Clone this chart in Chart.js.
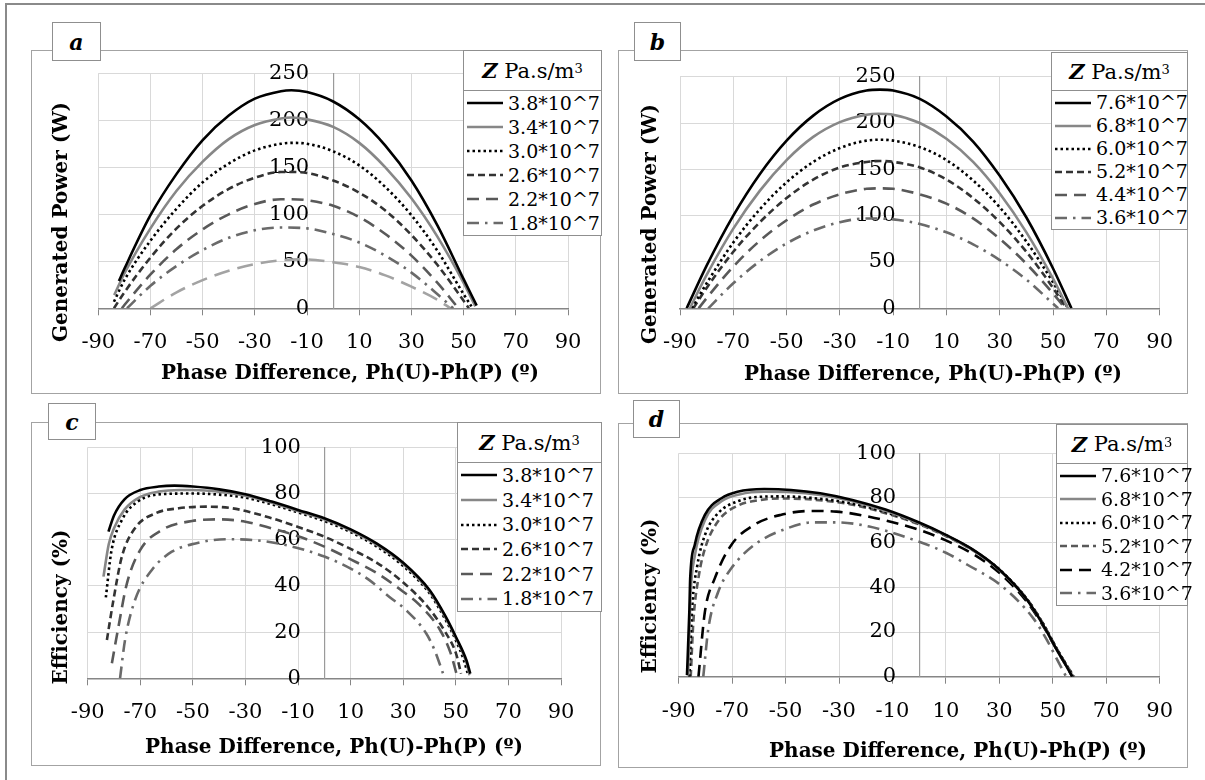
<!DOCTYPE html>
<html>
<head>
<meta charset="utf-8">
<title>Generated power and efficiency vs phase difference</title>
<script src="https://cdn.jsdelivr.net/npm/chart.js@4.4.1/dist/chart.umd.min.js"></script>
<style>
  body { margin:0; background:#fff; width:1205px; height:780px; overflow:hidden; position:relative;
         font-family:"DejaVu Serif","Liberation Serif",serif; color:#000; }
  .outer { position:absolute; left:5px; top:3px; width:1215px; height:800px; border:2px solid #8a8a8a; box-sizing:border-box; }
  .frame { position:absolute; border:1.5px solid #a3a3a3; box-sizing:border-box; background:#fff; }
  canvas { position:absolute; }
  .tag { position:absolute; border:1.5px solid #8f8f8f; box-sizing:border-box; background:#fff;
         font-weight:bold; font-style:italic; font-size:22px; display:flex; align-items:center; justify-content:center; z-index:3; }
  .legend { position:absolute; border:1.5px solid #8f8f8f; box-sizing:border-box; background:#fff; z-index:3;
            display:flex; flex-direction:column; }
  .legend .lh { border-bottom:1.5px solid #8f8f8f; font-size:21px; display:flex; align-items:center; justify-content:center; }
  .legend .lh sup { font-size:13px; position:relative; top:-2px; }
  .legend .row { flex:1; display:flex; align-items:center; font-size:19px; line-height:1; white-space:nowrap; }
  .legend .row svg { margin-left:3px; margin-right:5px; flex:none; }
  .xt, .yt { position:absolute; font-weight:bold; font-size:20px; white-space:nowrap; z-index:3; }
  .xt { transform:translate(-50%,-50%); }
  .yt { transform:translate(-50%,-50%) rotate(-90deg); }
</style>
</head>
<body>
<div class="outer"></div>

<div class="frame" style="left:31px;top:50px;width:570px;height:344px"></div>
<div class="frame" style="left:618px;top:50px;width:570px;height:344px"></div>
<div class="frame" style="left:31px;top:422px;width:570px;height:344px"></div>
<div class="frame" style="left:618px;top:423px;width:570px;height:345px"></div>

<canvas id="chartA" width="570" height="344" style="left:31px;top:50px"></canvas>
<canvas id="chartB" width="570" height="344" style="left:618px;top:50px"></canvas>
<canvas id="chartC" width="570" height="344" style="left:31px;top:422px"></canvas>
<canvas id="chartD" width="570" height="345" style="left:618px;top:423px"></canvas>

<div class="tag" style="left:52px;top:22px;width:49px;height:39px">a</div>
<div class="tag" style="left:634px;top:22px;width:47px;height:39px">b</div>
<div class="tag" style="left:48px;top:403px;width:48px;height:37px">c</div>
<div class="tag" style="left:633px;top:400px;width:47px;height:38px">d</div>

<div class="legend" id="legA" style="left:463px;top:50px;width:139px;height:186px"></div>
<div class="legend" id="legB" style="left:1051px;top:52px;width:137px;height:178px"></div>
<div class="legend" id="legC" style="left:457px;top:422px;width:145px;height:190px"></div>
<div class="legend" id="legD" style="left:1056px;top:424px;width:132px;height:182px"></div>

<div class="yt" style="left:60px;top:222px">Generated Power (W)</div>
<div class="yt" style="left:649px;top:224px">Generated Power (W)</div>
<div class="yt" style="left:60px;top:607px">Efficiency (%)</div>
<div class="yt" style="left:649px;top:596px">Efficiency (%)</div>

<div class="xt" style="left:350px;top:372px">Phase Difference, Ph(U)-Ph(P) (º)</div>
<div class="xt" style="left:933px;top:373px">Phase Difference, Ph(U)-Ph(P) (º)</div>
<div class="xt" style="left:334px;top:746px">Phase Difference, Ph(U)-Ph(P) (º)</div>
<div class="xt" style="left:958px;top:750px">Phase Difference, Ph(U)-Ph(P) (º)</div>

<script>
// ---- data ----
const phaseTicks = [-90, -70, -50, -30, -10, 10, 30, 50, 70, 90];
const powerTicks = [0, 50, 100, 150, 200, 250];
const effTicks = [0, 20, 40, 60, 80, 100];

const zLabelsA = ['3.8*10^7', '3.4*10^7', '3.0*10^7', '2.6*10^7', '2.2*10^7', '1.8*10^7'];
const zLabelsB = ['7.6*10^7', '6.8*10^7', '6.0*10^7', '5.2*10^7', '4.4*10^7', '3.6*10^7'];
const zLabelsC = ['3.8*10^7', '3.4*10^7', '3.0*10^7', '2.6*10^7', '2.2*10^7', '1.8*10^7'];
const zLabelsD = ['7.6*10^7', '6.8*10^7', '6.0*10^7', '5.2*10^7', '4.2*10^7', '3.6*10^7'];

// panel a: generated power (W), points are [phase, power]
const powA38 = [[-82.1,29],[-80,42],[-70,99],[-60,143],[-50,179],[-40,205],[-30,223],[-20,231],[-16,232],[-10,230],[0,220],[10,201],[20,173],[30,136],[40,88],[50,31],[55,3]];
const powA34 = [[-83.9,14],[-80,37],[-70,85],[-60,125],[-50,156],[-40,180],[-30,195],[-20,202],[-16,203],[-10,201],[0,193],[10,176],[20,150],[30,117],[40,76],[50,27],[54.5,2]];
const powA30 = [[-84,7],[-80,30],[-70,72],[-60,106],[-50,134],[-40,154],[-30,168],[-20,175],[-15,176],[-10,175],[0,167],[10,152],[20,129],[30,99],[40,61],[50,15],[53,2]];
const powA26 = [[-84,0],[-80,17],[-70,54],[-60,85],[-50,109],[-40,127],[-30,139],[-20,145],[-16.6,145],[-10,144],[0,136],[10,123],[20,104],[30,78],[40,46],[50,8],[52,0]];
const powA22 = [[-81,0],[-80,3.5],[-70,36],[-60,63],[-50,84],[-40,100],[-30,111],[-20,116],[-16,116],[-10,115],[0,109],[10,97],[20,79],[30,56],[40,27],[48,0]];
const powA18 = [[-79,0],[-70,24],[-60,45],[-50,62],[-40,75],[-30,83],[-20,86],[-10,85],[0,79],[10,70],[20,56],[30,38],[40,15],[46,0]];
const powA14 = [[-70,0],[-60,17],[-50,30],[-40,40],[-30,47],[-20,51],[-13,52],[-10,52],[0,49],[10,44],[20,35],[30,23],[40,9],[45,0]]; // no legend entry

// panel b
const powB76 = [[-87.5,0],[-80,46],[-70,100],[-60,145],[-50,181],[-40,208],[-30,226],[-20,235],[-15,236],[-10,235],[0,226],[10,207],[20,180],[30,143],[40,98],[50,43],[56.9,0]];
const powB68 = [[-86.3,0],[-80,36],[-70,86],[-60,127],[-50,160],[-40,185],[-30,201],[-20,209],[-15.6,210],[-10,209],[0,200],[10,183],[20,158],[30,124],[40,82],[50,32],[55.6,0]];
const powB60 = [[-85.6,0],[-80,27],[-70,71],[-60,107],[-50,136],[-40,158],[-30,173],[-20,181],[-14.4,182],[-10,181],[0,174],[10,160],[20,138],[30,109],[40,72],[50,28],[55.6,0]];
const powB52 = [[-85,0],[-80,22],[-70,61],[-60,93],[-50,119],[-40,139],[-30,152],[-20,158],[-15,159],[-10,158],[0,152],[10,139],[20,119],[30,93],[40,61],[50,22],[55,0]];
const powB44 = [[-83,0],[-80,11],[-70,45],[-60,73],[-50,95],[-40,112],[-30,123],[-20,129],[-15,129.5],[-10,129],[0,123],[10,113],[20,97],[30,75],[40,48],[50,16],[54.5,0]];
const powB36 = [[-79.4,0],[-70,27],[-60,51],[-50,70],[-40,84],[-30,93],[-20,97],[-10,96],[0,91],[10,82],[20,69],[30,52],[40,31],[50,5],[51.9,0]];

// panel c: efficiency (%)
const effC38 = [[-82.1,63.5],[-80,70.5],[-76,77.5],[-70,81.5],[-63,83],[-57,83.4],[-50,83],[-40,81.8],[-30,79.7],[-20,76.5],[-10,72.9],[0,69.3],[10,64.5],[20,58.3],[30,50],[40,38.2],[46,27],[50,18],[54,7.9],[55.5,2]];
const effC34 = [[-84,44],[-82,58],[-80,65],[-76,73],[-70,78.5],[-63,80.8],[-55,81.5],[-50,81.5],[-40,80.8],[-30,79],[-20,76],[-10,72.4],[0,68.8],[10,64],[20,57.8],[30,49.5],[40,37.6],[46,26.5],[50,17.5],[54,7],[55.2,1.5]];
const effC30 = [[-83.1,35],[-81,55],[-77,68.5],[-71,76.5],[-62,79.7],[-50,80],[-40,79.5],[-30,78.2],[-20,75.3],[-10,71.8],[0,68.1],[10,63.3],[20,57],[30,48.6],[40,36.8],[46,25.5],[50,16.5],[53,8],[54.8,1]];
const effC26 = [[-82.7,16.6],[-80.2,34],[-77,52.7],[-72,65],[-64.3,71.4],[-55.4,73.6],[-45,74.3],[-35,73.6],[-20,69.3],[-10,65.5],[0,61.3],[10,56],[20,50],[30,41.5],[40,30],[46,20],[50,11],[52,2]];
const effC22 = [[-80.8,6.5],[-78.3,22.4],[-75.1,41],[-70,55.6],[-61.8,64.2],[-50.3,68.1],[-40,68.8],[-30,67.8],[-20,64.9],[-10,61.5],[0,57],[10,51.5],[20,45.5],[30,37.5],[36,32],[44,20.9],[48,11],[50.2,2.2]];
const effC18 = [[-77.7,0],[-75.8,16.6],[-72,33.9],[-65.6,46.9],[-58,54.8],[-49,58.4],[-37.6,60.2],[-27.4,59.9],[-14.7,57.7],[0,52.7],[10,47.5],[17,42.6],[25,35],[31,29.6],[38.7,19.5],[42,12],[45.1,2.2]];

// panel d
const effD76 = [[-86.9,0.7],[-86,30],[-85.7,44],[-84,59],[-80.2,72.4],[-74,79.9],[-68,82.8],[-58,84],[-48,83.6],[-37,82.1],[-25,79.1],[-12.6,74.8],[0,69],[10,63.5],[20,57],[30,48],[40,35],[46,24],[52,11],[55,5],[57.3,0]];
const effD68 = [[-86.5,0.5],[-85.5,38],[-84,54],[-80,70.5],[-74,78.5],[-67,81.7],[-58,82.8],[-48,82.6],[-37,81.3],[-25,78.5],[-12.6,74.3],[0,68.7],[10,63.3],[20,56.8],[30,47.8],[40,35],[46,24],[52,11],[55,5],[57.5,0]];
const effD60 = [[-86,0],[-85,30],[-83,50],[-80,64],[-75,73.5],[-68,78.5],[-60,80.5],[-52,80.7],[-40,80],[-25,77.5],[-12.6,73.7],[0,68.5],[10,63.2],[20,56.8],[30,48],[40,35.3],[46,24.5],[52,11.5],[55,5.5],[57.8,0]];
const effD52 = [[-85.5,0],[-84.5,25],[-82.5,45],[-80,58],[-75,70],[-68,76.5],[-60,79],[-52,79.8],[-40,79.3],[-25,77],[-12.6,73.2],[0,68.2],[10,63],[20,56.6],[30,47.8],[40,35.3],[46,24.5],[52,11.5],[55,5.5],[58,0]];
const effD42 = [[-82.6,0],[-80.2,29],[-76.5,44],[-70.3,59],[-61.7,68],[-51.9,72.4],[-40.8,74.2],[-31,73.9],[-18.7,71.6],[0,65.7],[10,61],[20,55],[30,46.5],[40,34],[46,23.5],[52,11],[55,5],[57.3,0]];
const effD36 = [[-80.8,0],[-78.9,21.6],[-75.2,38],[-70.3,48.5],[-61.7,59],[-49.4,66.4],[-39.6,69.1],[-31,69.1],[-18.7,67.2],[0,60.4],[10,55.5],[18.2,50],[30.5,41],[42.8,26],[48,16],[51.4,8.2],[55,0]];

// ---- line styles ----
const SOLID_BLACK = {color:'#000000', dash:[], width:2.6};
const SOLID_GRAY = {color:'#878787', dash:[], width:2.6};
const DOTTED = {color:'#000000', dash:[2.5,3], width:2.6};
const SHORT_DASH = {color:'#333333', dash:[7,4], width:2.6};
const SHORT_DASH_GRAY = {color:'#595959', dash:[7,4], width:2.6};
const LONG_DASH = {color:'#595959', dash:[12,7], width:2.6};
const LONG_DASH_BLACK = {color:'#000000', dash:[12,7], width:2.6};
const DASH_DOT = {color:'#6a6a6a', dash:[12,6,2.5,6], width:2.6};
const LONG_DASH_LIGHT = {color:'#a3a3a3', dash:[16,8], width:2.6};

const stylesAC = [SOLID_BLACK, SOLID_GRAY, DOTTED, SHORT_DASH, LONG_DASH, DASH_DOT];
const stylesD = [SOLID_BLACK, SOLID_GRAY, DOTTED, SHORT_DASH_GRAY, LONG_DASH_BLACK, DASH_DOT];

const serif = '"DejaVu Serif", "Liberation Serif", serif';
const tickFont = {family: serif, size: 21};

function makeChart(id, series, styles, cfg) {
  const datasets = series.map(function (pts, i) {
    return {
      data: pts.map(p => ({x: p[0], y: p[1]})),
      borderColor: styles[i].color,
      borderDash: styles[i].dash,
      borderWidth: styles[i].width,
      borderCapStyle: 'butt',
      pointRadius: 0,
      fill: false,
      cubicInterpolationMode: 'monotone'
    };
  });

  return new Chart(document.getElementById(id), {
    type: 'line',
    data: {datasets: datasets},
    options: {
      responsive: false,
      animation: false,
      layout: {padding: {left: cfg.left, right: cfg.right, top: cfg.top, bottom: 0}},
      plugins: {legend: {display: false}, tooltip: {enabled: false}},
      scales: {
        x: {
          type: 'linear', position: 'bottom', min: -90, max: 90,
          afterBuildTicks: s => { s.ticks = phaseTicks.map(v => ({value: v})); },
          afterFit: s => { s.height = cfg.xh; },
          grid: {color: '#d9d9d9', tickColor: '#868686', tickLength: 7, lineWidth: 1},
          border: {color: '#868686', width: 1.5},
          ticks: {font: tickFont, color: '#000', padding: 15, maxRotation: 0, autoSkip: false}
        },
        // tick labels sit just left of the vertical axis at phase 0
        y: {
          type: 'linear', min: 0, max: cfg.yMax, position: {x: cfg.labelAt},
          afterBuildTicks: s => { s.ticks = cfg.yTicks.map(v => ({value: v})); },
          grid: {color: '#d9d9d9', drawTicks: false, lineWidth: 1},
          border: {display: false},
          ticks: {font: tickFont, color: '#000'}
        },
        yLine: {
          axis: 'y', type: 'linear', min: 0, max: cfg.yMax, position: {x: 0},
          grid: {display: false},
          ticks: {display: false},
          border: {color: '#9a9a9a', width: 1.2}
        }
      }
    }
  });
}

function buildLegend(id, labels, styles) {
  var html = '<div class="lh" style="height:' + (id === 'legB' ? 37 : id === 'legD' ? 38 : 39) + 'px">' +
             '<b><i>Z</i></b>&nbsp;Pa.s/m<sup>3</sup></div>';
  labels.forEach(function (lab, i) {
    var s = styles[i];
    html += '<div class="row"><svg width="36" height="10"><line x1="0" y1="5" x2="36" y2="5" stroke="' + s.color +
            '" stroke-width="' + s.width + '" stroke-dasharray="' + (s.dash.length ? s.dash.join(' ') : 'none') +
            '"/></svg><span>' + lab + '</span></div>';
  });
  document.getElementById(id).innerHTML = html;
}

makeChart('chartA', [powA38, powA34, powA30, powA26, powA22, powA18, powA14],
  stylesAC.concat([LONG_DASH_LIGHT]),
  {left: 67.3, right: 33, top: 23.3, xh: 85.7, yMax: 250, yTicks: powerTicks, labelAt: -9.2});
makeChart('chartB', [powB76, powB68, powB60, powB52, powB44, powB36], stylesAC,
  {left: 62, right: 28, top: 26.7, xh: 85.7, yMax: 250, yTicks: powerTicks, labelAt: -9.1});
makeChart('chartC', [effC38, effC34, effC30, effC26, effC22, effC18], stylesAC,
  {left: 56.7, right: 40, top: 25.3, xh: 87.7, yMax: 100, yTicks: effTicks, labelAt: -8.9});
makeChart('chartD', [effD76, effD68, effD60, effD52, effD42, effD36], stylesD,
  {left: 60.7, right: 22, top: 30.3, xh: 91.3, yMax: 100, yTicks: effTicks, labelAt: -8.6});

buildLegend('legA', zLabelsA, stylesAC);
buildLegend('legB', zLabelsB, stylesAC);
buildLegend('legC', zLabelsC, stylesAC);
buildLegend('legD', zLabelsD, stylesD);
</script>
</body>
</html>
